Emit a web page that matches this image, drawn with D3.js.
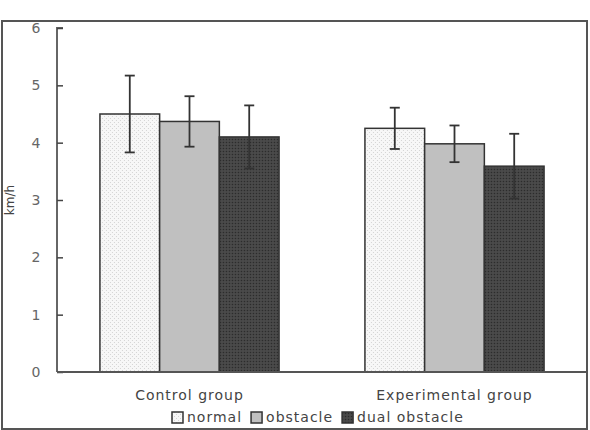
<!DOCTYPE html>
<html>
<head>
<meta charset="utf-8">
<script src="https://cdn.jsdelivr.net/npm/d3@7"></script>
<style>
  body { margin: 0; background: #fff; }
  text { font-family: "DejaVu Sans", sans-serif; }
</style>
</head>
<body>
<div id="chart"></div>
<script>
// dane
var groups = ["Control group", "Experimental group"];
var conditions = ["normal", "obstacle", "dual obstacle"];
var means = {
  "Control group":      [4.50, 4.37, 4.10],
  "Experimental group": [4.25, 3.98, 3.59]
};
var sds = {
  "Control group":      [0.67, 0.44, 0.55],
  "Experimental group": [0.36, 0.32, 0.565]
};
var yTicks = [0, 1, 2, 3, 4, 5, 6];

var W = 590, H = 430;
var margin = {top: 28, right: 3, bottom: 58, left: 57};
var width = W - margin.left - margin.right,
    height = H - margin.top - margin.bottom;

var svg = d3.select("#chart").append("svg")
  .attr("width", W).attr("height", H);

// wzorki wypełnienia
var defs = svg.append("defs");
var p1 = defs.append("pattern").attr("id", "pNormal")
  .attr("width", 4).attr("height", 4).attr("patternUnits", "userSpaceOnUse");
p1.append("rect").attr("width", 4).attr("height", 4).attr("fill", "#f7f7f7");
p1.append("rect").attr("x", 0).attr("y", 0).attr("width", 1).attr("height", 1).attr("fill", "#d4d4d4");
p1.append("rect").attr("x", 2).attr("y", 2).attr("width", 1).attr("height", 1).attr("fill", "#d4d4d4");

var p3 = defs.append("pattern").attr("id", "pDual")
  .attr("width", 3).attr("height", 3).attr("patternUnits", "userSpaceOnUse");
p3.append("rect").attr("width", 3).attr("height", 3).attr("fill", "#454545");
p3.append("rect").attr("x", 0).attr("y", 0).attr("width", 1).attr("height", 1).attr("fill", "#2a2a2a");
p3.append("rect").attr("x", 1.5).attr("y", 1.5).attr("width", 1).attr("height", 1).attr("fill", "#5a5a5a");

var fills = ["url(#pNormal)", "#c0c0c0", "url(#pDual)"];

// ramka
svg.append("rect")
  .attr("x", 2).attr("y", 21).attr("width", 585).attr("height", 408)
  .attr("fill", "none").attr("stroke", "#555").attr("stroke-width", 2);

var g = svg.append("g")
  .attr("transform", "translate(" + margin.left + "," + margin.top + ")");

var y = d3.scaleLinear().domain([0, 6]).range([height, 0]);
var x0 = d3.scaleBand().domain(groups).range([0, width]).paddingInner(0).paddingOuter(0);
var x1 = d3.scaleBand().domain(conditions).range([0, x0.bandwidth() * 0.676])
  .padding(0);
var off = (x0.bandwidth() - x1.range()[1]) / 2;

// oś Y
var yAxis = g.append("g")
  .call(d3.axisRight(y).tickValues(yTicks).tickSize(6).tickFormat(d3.format("d")));
yAxis.select(".domain").attr("stroke", "#666").attr("stroke-width", 2).attr("d", "M6,0H0V" + height);
yAxis.selectAll(".tick line").attr("stroke", "#444").attr("stroke-width", 1.5);
yAxis.selectAll(".tick text")
  .attr("x", -21).attr("text-anchor", "middle")
  .attr("fill", "#666").style("font-size", "14px");

// słupki
var gg = g.selectAll(".grp").data(groups).enter().append("g")
  .attr("transform", function(d) { return "translate(" + (x0(d) + off) + ",0)"; });

gg.selectAll("rect").data(function(d) {
    return conditions.map(function(c, i) { return {c: c, i: i, v: means[d][i], s: sds[d][i]}; });
  }).enter().append("rect")
  .attr("x", function(d) { return x1(d.c); })
  .attr("y", function(d) { return y(d.v); })
  .attr("width", x1.bandwidth())
  .attr("height", function(d) { return height - y(d.v); })
  .attr("fill", function(d) { return fills[d.i]; })
  .attr("stroke", "#333").attr("stroke-width", 1.5);

// słupki błędów
var eb = gg.selectAll(".eb").data(function(d) {
    return conditions.map(function(c, i) { return {c: c, i: i, v: means[d][i], s: sds[d][i]}; });
  }).enter().append("g").attr("class", "eb");
eb.append("line")
  .attr("x1", function(d) { return x1(d.c) + x1.bandwidth() / 2; })
  .attr("x2", function(d) { return x1(d.c) + x1.bandwidth() / 2; })
  .attr("y1", function(d) { return y(d.v + d.s); })
  .attr("y2", function(d) { return y(d.v - d.s); })
  .attr("stroke", "#333").attr("stroke-width", 1.8);
[1, -1].forEach(function(sg) {
  eb.append("line")
    .attr("x1", function(d) { return x1(d.c) + x1.bandwidth() / 2 - 5; })
    .attr("x2", function(d) { return x1(d.c) + x1.bandwidth() / 2 + 5; })
    .attr("y1", function(d) { return y(d.v + sg * d.s); })
    .attr("y2", function(d) { return y(d.v + sg * d.s); })
    .attr("stroke", "#333").attr("stroke-width", 1.8);
});

// oś X
g.append("line")
  .attr("x1", 0).attr("x2", width)
  .attr("y1", height).attr("y2", height)
  .attr("stroke", "#555").attr("stroke-width", 2);

g.selectAll(".xlab").data(groups).enter().append("text")
  .attr("x", function(d) { return x0(d) + x0.bandwidth() / 2; })
  .attr("y", height + 28)
  .attr("text-anchor", "middle")
  .attr("fill", "#444").style("font-size", "14px").style("letter-spacing", "1px")
  .text(function(d) { return d; });

// etykieta osi Y
svg.append("text")
  .attr("transform", "translate(14,200) rotate(-90)")
  .attr("text-anchor", "middle")
  .attr("fill", "#444").style("font-size", "12px")
  .text("km/h");

// legenda
var legend = svg.append("g").attr("transform", "translate(172,422)");
var lx = 0;
conditions.forEach(function(c, i) {
  var item = legend.append("g").attr("transform", "translate(" + lx + ",0)");
  item.append("rect").attr("x", 0).attr("y", -10).attr("width", 11).attr("height", 11)
    .attr("fill", fills[i]).attr("stroke", "#333").attr("stroke-width", 1.5);
  var t = item.append("text").attr("x", 15).attr("y", 0)
    .attr("fill", "#444").style("font-size", "14px").style("letter-spacing", "1px").text(c);
  lx += 15 + t.node().getComputedTextLength() + 9;
});
</script>
</body>
</html>
